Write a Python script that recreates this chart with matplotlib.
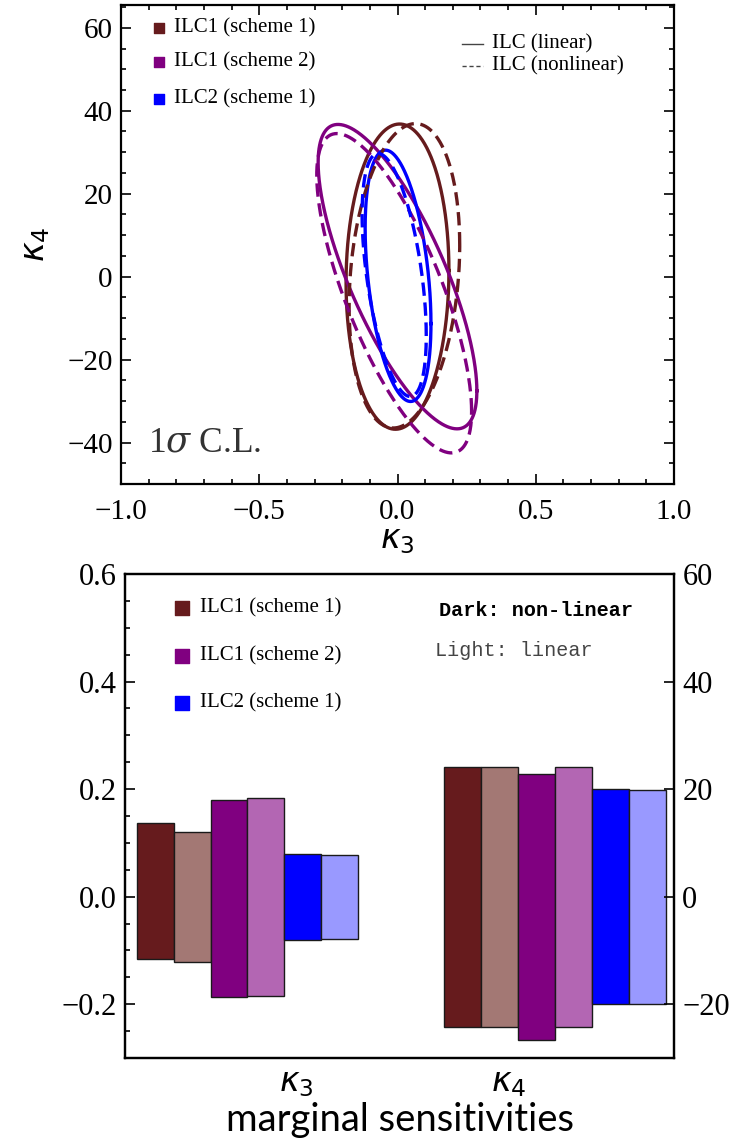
import numpy as np
import matplotlib
matplotlib.use("Agg")
import matplotlib.pyplot as plt
from matplotlib.ticker import MultipleLocator, FixedLocator

# ---------------- data ----------------
schemes = ["ILC1 (scheme 1)", "ILC1 (scheme 2)", "ILC2 (scheme 1)"]
scheme_colors = ["#661b1d", "#800080", "#0000ff"]
light_colors = ["#a37874", "#b366b3", "#9999ff"]

# 1-sigma contours (top panel): centre, half-extent in k3 / k4, correlation
lin_c3 = [0.0, 0.0, 0.002]
lin_c4 = [0.0, 0.0, 0.2]
lin_s3 = [0.186, 0.287, 0.119]
lin_s4 = [36.8, 36.7, 30.3]
lin_rho = [0.04, -0.75, -0.38]

nl_c3 = [0.025, -0.012, -0.012]
nl_c4 = [0.2, -4.0, 0.4]
nl_s3 = [0.200, 0.280, 0.116]
nl_s4 = [36.7, 38.5, 29.3]
nl_rho = [0.20, -0.74, -0.50]

# marginal sensitivities (bottom panel); order per scheme: non-linear (dark), linear (light)
bar_labels = ["ILC1 s1 NL", "ILC1 s1 L", "ILC1 s2 NL", "ILC1 s2 L", "ILC2 s1 NL", "ILC2 s1 L"]
k3_upper = [0.137, 0.121, 0.179, 0.184, 0.080, 0.078]
k3_lower = [-0.116, -0.122, -0.187, -0.184, -0.080, -0.079]
k4_upper = [24.2, 24.2, 22.8, 24.2, 20.0, 19.9]
k4_lower = [-24.3, -24.3, -26.6, -24.3, -20.0, -20.0]

top_xticks = [-1.0, -0.5, 0.0, 0.5, 1.0]
top_yticks = [-40, -20, 0, 20, 40, 60]
bot_lticks = [-0.2, 0.0, 0.2, 0.4, 0.6]
bot_rticks = [-20, 0, 20, 40, 60]

SERIF = ["Liberation Serif", "DejaVu Serif"]
plt.rcParams["mathtext.fontset"] = "dejavusans"

fig = plt.figure(figsize=(7.44, 11.42), dpi=100)

# ---------------- top panel ----------------
ax1 = fig.add_axes([121 / 744, 1 - 484 / 1142, 553 / 744, 479 / 1142])
t = np.linspace(0, 2 * np.pi, 600)


def contour(ax, c3, c4, s3, s4, rho, color, ls):
    x = c3 + s3 * np.cos(t)
    y = c4 + s4 * (rho * np.cos(t) + np.sqrt(1 - rho ** 2) * np.sin(t))
    ax.plot(x, y, color=color, lw=2.4, ls=ls, dashes=(4, 2) if ls == "--" else (None, None))


for i in range(3):
    contour(ax1, lin_c3[i], lin_c4[i], lin_s3[i], lin_s4[i], lin_rho[i], scheme_colors[i], "-")
for i in range(3):
    contour(ax1, nl_c3[i], nl_c4[i], nl_s3[i], nl_s4[i], nl_rho[i], scheme_colors[i], "--")

ax1.set_xlim(-1, 1)
ax1.set_ylim(-50, 65.5)
ax1.xaxis.set_major_locator(FixedLocator(top_xticks))
ax1.yaxis.set_major_locator(FixedLocator(top_yticks))
ax1.xaxis.set_minor_locator(MultipleLocator(0.1))
ax1.yaxis.set_minor_locator(MultipleLocator(5))
ax1.tick_params(which="both", direction="in", top=True, right=True, width=1.2)
ax1.tick_params(which="major", length=7, labelsize=21, pad=6)
ax1.tick_params(axis="x", which="major", pad=11)
ax1.tick_params(which="minor", length=3.5)
ax1.set_xticklabels(["\u22121.0", "\u22120.5", "0.0", "0.5", "1.0"])
ax1.set_yticklabels(["\u221240", "\u221220", "0", "20", "40", "60"])
for lab in ax1.get_xticklabels() + ax1.get_yticklabels():
    lab.set_family(SERIF)
for sp in ax1.spines.values():
    sp.set_linewidth(1.6)

ax1.set_xlabel(r"$\kappa_3$", fontsize=24)
ax1.xaxis.set_label_coords(0.5, -0.115)
ax1.xaxis.label.set_va("center")
ax1.set_ylabel(r"$\kappa_4$", fontsize=24)
ax1.yaxis.set_label_coords(-0.155, 0.5)
ax1.yaxis.label.set_va("center")

ax1.text(0.048, 0.068, r"1$\sigma$ C.L.", transform=ax1.transAxes, fontsize=25.5,
         color="#333333", family=SERIF, va="baseline", ha="left",
         math_fontfamily="dejavuserif")

# legends (top)
ys = [0.952, 0.882, 0.804]
for i in range(3):
    ax1.scatter([0.069], [ys[i]], marker="s", s=55, color=scheme_colors[i],
                transform=ax1.transAxes, clip_on=False)
    ax1.text(0.095, ys[i], schemes[i], transform=ax1.transAxes, fontsize=15,
             family=SERIF, va="center", ha="left")
for yy, ls, lab in [(0.919, "-", "ILC (linear)"), (0.873, "--", "ILC (nonlinear)")]:
    ax1.plot([0.617, 0.655], [yy, yy], transform=ax1.transAxes, color="#444444",
             lw=1.0, ls=ls, dashes=(3, 2) if ls == "--" else (None, None))
    ax1.text(0.670, yy, lab, transform=ax1.transAxes, fontsize=15, family=SERIF,
             va="center", ha="left")

# ---------------- bottom panel ----------------
ax2 = fig.add_axes([125 / 744, 1 - 1058 / 1142, 549 / 744, 484 / 1142])
ax2r = ax2.twinx()
bar_colors = [c for pair in zip(scheme_colors, light_colors) for c in pair]
bw = 1.0
x3 = 0.32 + bw / 2 + np.arange(6) * bw
x4 = 8.65 + bw / 2 + np.arange(6) * bw
ax2.bar(x3, np.array(k3_upper) - np.array(k3_lower), bottom=k3_lower, width=bw,
        color=bar_colors, edgecolor="#1a1a1a", linewidth=1.0)
ax2r.bar(x4, np.array(k4_upper) - np.array(k4_lower), bottom=k4_lower, width=bw,
         color=bar_colors, edgecolor="#1a1a1a", linewidth=1.0)

ax2.set_xlim(0, 14.88)
ax2.set_ylim(-0.3, 0.6)
ax2r.set_ylim(-30, 60)
ax2.yaxis.set_major_locator(FixedLocator(bot_lticks))
ax2.yaxis.set_minor_locator(MultipleLocator(0.05))
ax2r.yaxis.set_major_locator(FixedLocator(bot_rticks))
ax2.set_yticklabels(["\u22120.2", "0.0", "0.2", "0.4", "0.6"])
ax2r.set_yticklabels(["\u221220", "0", "20", "40", "60"])
ax2.tick_params(axis="y", which="both", direction="in", width=1.2)
ax2.tick_params(axis="y", which="major", length=7, labelsize=22, pad=6)
ax2.tick_params(axis="y", which="minor", length=3.5)
ax2r.tick_params(axis="y", which="major", direction="in", length=7, width=1.2,
                 labelsize=22, pad=6)
for lab in ax2.get_yticklabels() + ax2r.get_yticklabels():
    lab.set_family(SERIF)
ax2.set_xticks([4.63, 10.4])
ax2.set_xticklabels([r"$\kappa_3$", r"$\kappa_4$"], fontsize=24)
ax2.tick_params(axis="x", length=0, pad=6)
for sp in list(ax2.spines.values()) + list(ax2r.spines.values()):
    sp.set_linewidth(1.6)

ax2.set_xlabel("marginal sensitivities", fontsize=27.5, family=["Lato", "DejaVu Sans"])
ax2.xaxis.set_label_coords(0.5, -0.128)
ax2.xaxis.label.set_va("center")

ys2 = [0.930, 0.831, 0.733]
for i in range(3):
    ax2r.scatter([0.104], [ys2[i]], marker="s", s=110, color=scheme_colors[i],
                 transform=ax2.transAxes, clip_on=False)
    ax2r.text(0.137, ys2[i], schemes[i], transform=ax2.transAxes, fontsize=15,
              family=SERIF, va="center", ha="left")
ax2r.text(0.572, 0.924, "Dark: non-linear", transform=ax2.transAxes, fontsize=14.5,
          family=["Liberation Mono", "DejaVu Sans Mono"], weight="bold",
          va="center", ha="left")
ax2r.text(0.565, 0.841, "Light: linear", transform=ax2.transAxes, fontsize=14.5,
          family=["Liberation Mono", "DejaVu Sans Mono"], color="#444444",
          va="center", ha="left")

fig.savefig("out.png", dpi=100)
